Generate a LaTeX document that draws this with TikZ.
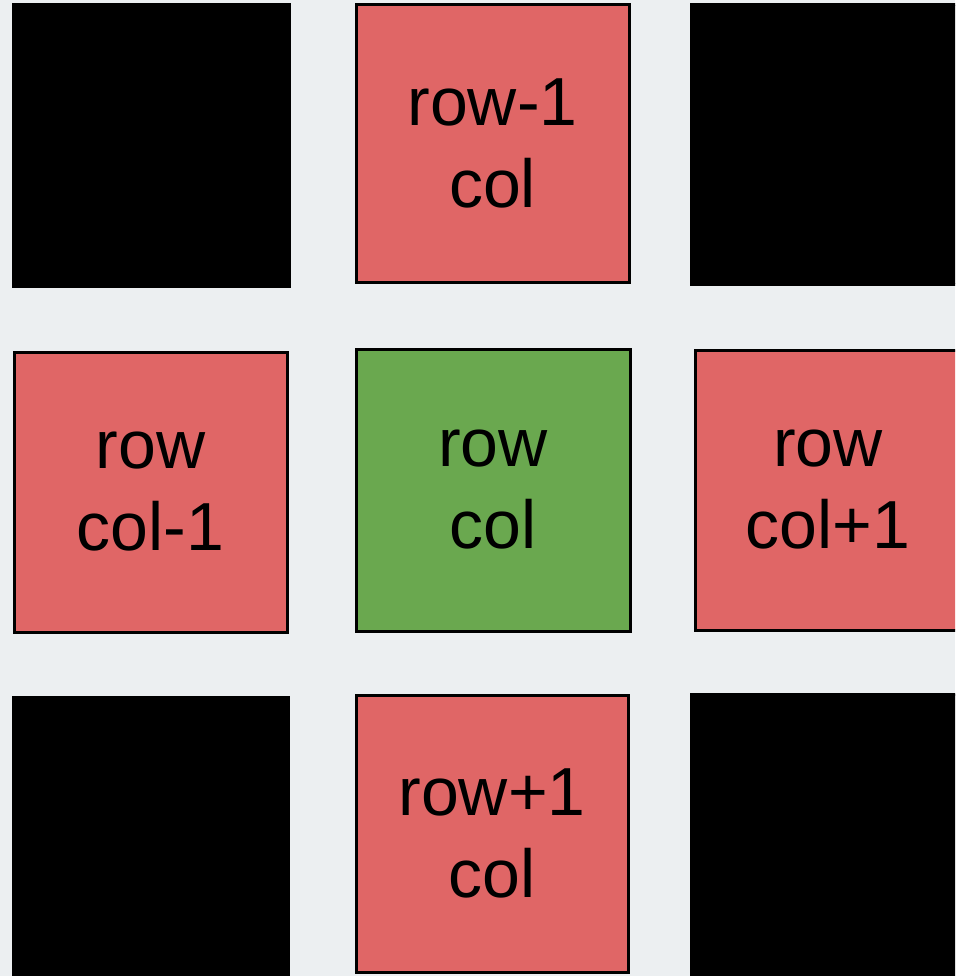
\documentclass[tikz,border=0pt]{standalone}
\usepackage{fontspec}
\setmainfont{Liberation Sans}
\definecolor{bgcol}{RGB}{236,239,241}
\definecolor{redcol}{RGB}{224,102,102}
\definecolor{greencol}{RGB}{106,168,79}
\begin{document}
\begin{tikzpicture}[x=1pt,y=-1pt,
  cell/.style={draw=black, line width=3pt, inner sep=0pt, outer sep=0pt,
    align=center, font=\fontsize{68}{82}\selectfont, text=black},
  blackcell/.style={cell, fill=black},
  redcell/.style={cell, fill=redcol},
  greencell/.style={cell, fill=greencol}]
\useasboundingbox (0,0) rectangle (955,976);
\clip (0,0) rectangle (955,976);
\fill[bgcol] (0,0) rectangle (955,976);
% top row
\node[blackcell, minimum width=276pt, minimum height=281pt] (tl) at (151,145.5) {};
\node[redcell, minimum width=273pt, minimum height=277pt] (tm) at (492.5,143.5) {row-1\\col};
\node[blackcell, minimum width=269pt, minimum height=279pt] (tr) at (825.5,144.5) {};
% middle row
\node[redcell, minimum width=273pt, minimum height=280pt] (ml) at (150.5,492) {row\\col-1};
\node[greencell, minimum width=274pt, minimum height=282pt] (mc) at (493,490) {row\\col};
\node[redcell, minimum width=266pt, minimum height=280pt] (mr) at (828,490) {row\\col+1};
% bottom row
\node[blackcell, minimum width=275pt, minimum height=283pt] (bl) at (150.5,838.5) {};
\node[redcell, minimum width=272pt, minimum height=277pt] (bm) at (492,833.5) {row+1\\col};
\node[blackcell, minimum width=269pt, minimum height=286pt] (br) at (825.5,837) {};
\end{tikzpicture}
\end{document}
